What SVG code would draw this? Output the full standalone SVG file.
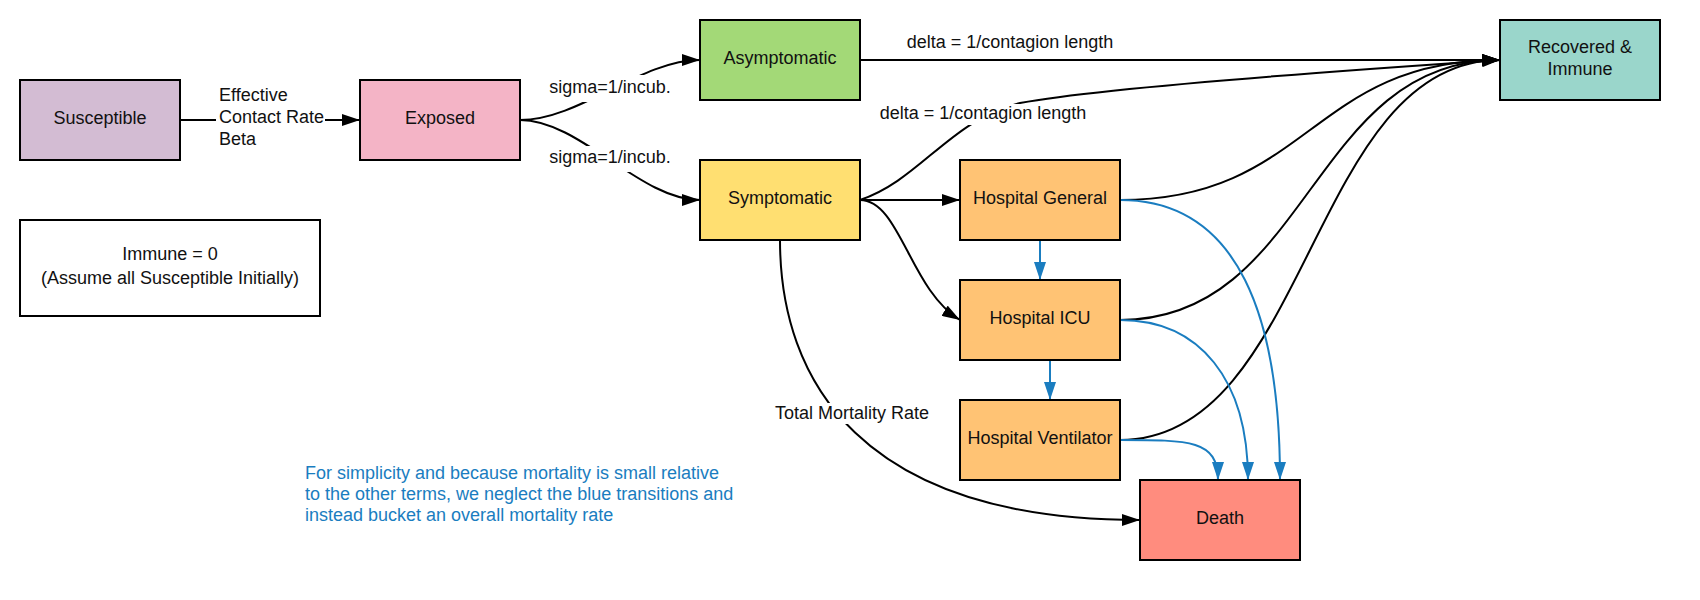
<svg xmlns="http://www.w3.org/2000/svg" width="1700" height="600" viewBox="0 0 1700 600">
<defs>
<marker id="ab" markerUnits="userSpaceOnUse" markerWidth="18" markerHeight="12" refX="18" refY="6" orient="auto"><path d="M0,0 L18,6 L0,12 z" fill="#000"/></marker>
<marker id="au" markerUnits="userSpaceOnUse" markerWidth="18" markerHeight="12" refX="18" refY="6" orient="auto"><path d="M0,0 L18,6 L0,12 z" fill="#1a7dc0"/></marker>
<style>
.box{stroke:#000;stroke-width:2}
text{font-family:"Liberation Sans",Arial,sans-serif;font-size:18px;fill:#111}
.c{text-anchor:middle}
.k{fill:none;stroke:#000;stroke-width:2;marker-end:url(#ab)}
.b{fill:none;stroke:#1a7dc0;stroke-width:2;marker-end:url(#au)}
.bg{fill:#fff}
.note{fill:#1a7dc0}
</style>
</defs>
<rect width="1700" height="600" fill="#fff"/>
<g id="connectors">
<path class="k" d="M180,120 L360,120"/>
<path class="k" d="M520,120 C580,120 640,60 700,60"/>
<path class="k" d="M520,120 C580,120 640,200 700,200"/>
<path class="k" d="M860,60 L1500,60"/>
<path class="k" d="M860,200 C920,180 950,120 1020,103 C1100,88 1350,70 1500,60"/>
<path class="k" d="M860,200 L960,200"/>
<path class="k" d="M860,200 C900,200 910,290 960,320"/>
<path class="k" d="M780,240 C780,380 860,520 1140,520"/>
<path class="k" d="M1120,200 C1310,200 1310,60 1500,60"/>
<path class="k" d="M1120,320 C1310,320 1310,60 1500,60"/>
<path class="k" d="M1120,440 C1310,440 1310,60 1500,60"/>
<path class="b" d="M1040,240 L1040,280"/>
<path class="b" d="M1050,360 L1050,400"/>
<path class="b" d="M1120,200 C1240,200 1280,320 1280,480"/>
<path class="b" d="M1120,320 C1200,320 1248,380 1248,480"/>
<path class="b" d="M1120,440 C1190,440 1218,440 1218,480"/>
<rect class="bg" x="216" y="85" width="109" height="66"/>
<text x="219" y="101">Effective</text>
<text x="219" y="123">Contact Rate</text>
<text x="219" y="145">Beta</text>
<rect class="bg" x="548" y="75" width="124" height="27"/>
<text class="c" x="610" y="93">sigma=1/incub.</text>
<rect class="bg" x="548" y="146" width="124" height="26"/>
<text class="c" x="610" y="163">sigma=1/incub.</text>
<text class="c" x="1010" y="48">delta = 1/contagion length</text>
<rect class="bg" x="878" y="104" width="210" height="21"/>
<text class="c" x="983" y="119">delta = 1/contagion length</text>
<rect class="bg" x="772" y="403" width="160" height="21"/>
<text class="c" x="852" y="419">Total Mortality Rate</text>
</g>
<g id="susceptible"><rect class="box" x="20" y="80" width="160" height="80" fill="#d3bcd3"/><text class="c" x="100" y="124">Susceptible</text></g>
<g id="exposed"><rect class="box" x="360" y="80" width="160" height="80" fill="#f4b4c6"/><text class="c" x="440" y="124">Exposed</text></g>
<g id="asymptomatic"><rect class="box" x="700" y="20" width="160" height="80" fill="#a3d977"/><text class="c" x="780" y="64">Asymptomatic</text></g>
<g id="symptomatic"><rect class="box" x="700" y="160" width="160" height="80" fill="#ffdf71"/><text class="c" x="780" y="204">Symptomatic</text></g>
<g id="hospital-general"><rect class="box" x="960" y="160" width="160" height="80" fill="#ffc374"/><text class="c" x="1040" y="204">Hospital General</text></g>
<g id="hospital-icu"><rect class="box" x="960" y="280" width="160" height="80" fill="#ffc374"/><text class="c" x="1040" y="324">Hospital ICU</text></g>
<g id="hospital-ventilator"><rect class="box" x="960" y="400" width="160" height="80" fill="#ffc374"/><text class="c" x="1040" y="444">Hospital Ventilator</text></g>
<g id="death"><rect class="box" x="1140" y="480" width="160" height="80" fill="#ff8c7e"/><text class="c" x="1220" y="524">Death</text></g>
<g id="recovered"><rect class="box" x="1500" y="20" width="160" height="80" fill="#9ad6cb"/><text class="c" x="1580" y="53">Recovered &amp;</text><text class="c" x="1580" y="75">Immune</text></g>
<g id="immune-note"><rect class="box" x="20" y="220" width="300" height="96" fill="#fff"/><text class="c" x="170" y="260">Immune = 0</text><text class="c" x="170" y="284">(Assume all Susceptible Initially)</text></g>
<g id="blue-note">
<text class="note" x="305" y="479">For simplicity and because mortality is small relative</text>
<text class="note" x="305" y="500">to the other terms, we neglect the blue transitions and</text>
<text class="note" x="305" y="521">instead bucket an overall mortality rate</text>
</g>
</svg>
